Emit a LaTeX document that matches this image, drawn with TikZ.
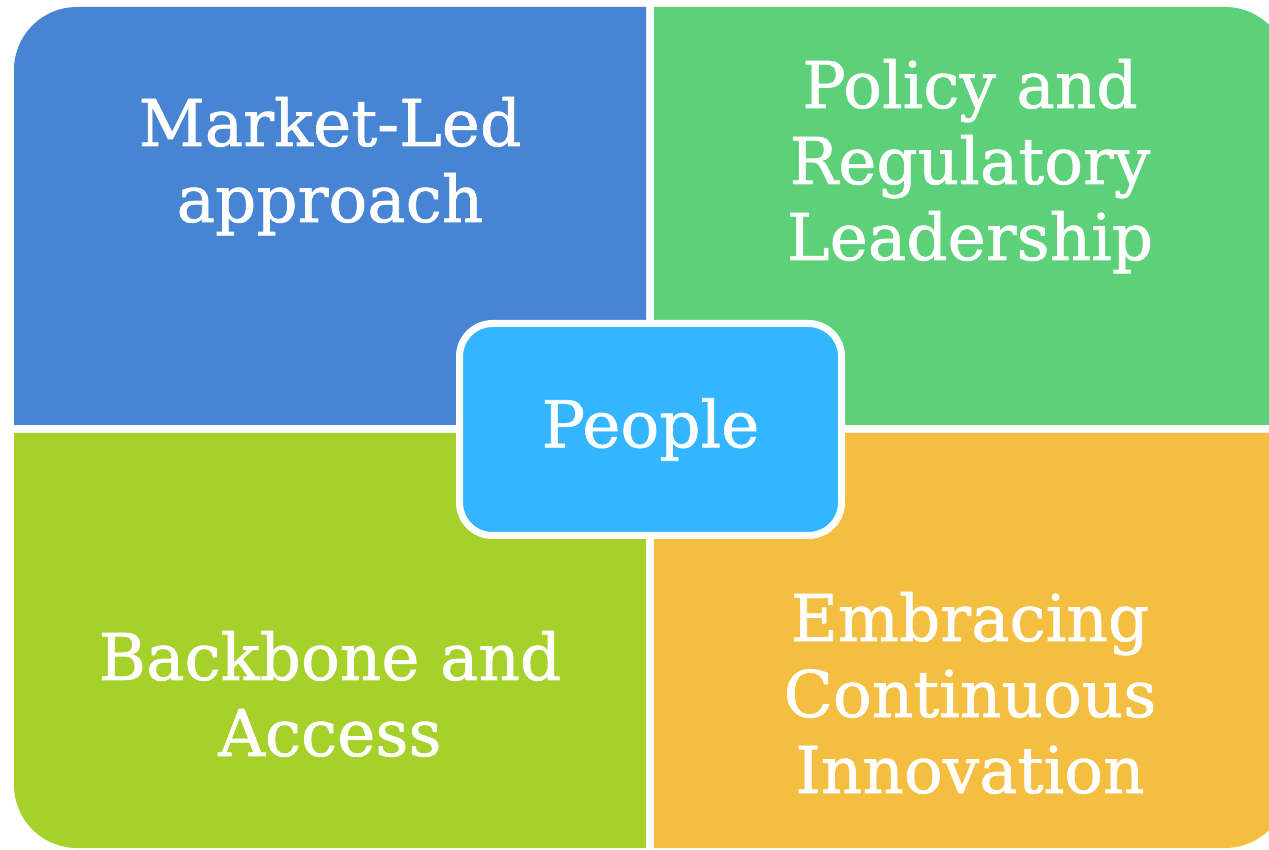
\documentclass[tikz,border=0pt]{standalone}
\usepackage{fontspec}
\setmainfont{DejaVu Serif}
\newfontfamily\quadfont[FakeBold=1]{DejaVu Serif}
\definecolor{quadblue}{HTML}{4785D4}
\definecolor{quadgreen}{HTML}{5DD17A}
\definecolor{quadlime}{HTML}{A6D02A}
\definecolor{quadorange}{HTML}{F4BF40}
\definecolor{hubcyan}{HTML}{33B6FF}
\begin{document}
\begin{tikzpicture}[x=1pt,y=1pt,
	quadtext/.style={text=white,align=center,inner sep=0,anchor=base,
		font=\quadfont\fontsize{64.5}{76}\selectfont},
	hub/.style={rectangle,rounded corners=33pt,fill=hubcyan,draw=white,line width=7pt,
		minimum width=382pt,minimum height=212pt,text=white,
		font=\quadfont\fontsize{64.5}{76}\selectfont}]
	\clip (0,0) rectangle (1269,849);
	\fill[white] (0,0) rectangle (1269,849);
	% Quadrants
	\fill[quadblue] (646,424) -- (14,424) -- (14,779) arc[start angle=180,end angle=90,radius=63] -- (646,842) -- cycle;
	\fill[quadgreen] (654,424) -- (654,842) -- (1225,842) arc[start angle=90,end angle=0,radius=63] -- (1288,424) -- cycle;
	\fill[quadlime] (646,416) -- (14,416) -- (14,64) arc[start angle=180,end angle=270,radius=63] -- (646,1) -- cycle;
	\fill[quadorange] (654,416) -- (1288,416) -- (1288,64) arc[start angle=0,end angle=-90,radius=63] -- (654,1) -- cycle;
	% Labels (base = last line)
	\node[quadtext] (market) at (330,627) {Market-Led\\approach};
	\node[quadtext] (policy) at (970,589) {Policy and\\Regulatory\\Leadership};
	\node[quadtext] (backbone) at (330,93) {Backbone and\\Access};
	\node[quadtext] (innovation) at (970,56) {Embracing\\Continuous\\Innovation};
	% Center
	\node[hub] (people) at (650.5,419.5) {People};
\end{tikzpicture}
\end{document}
